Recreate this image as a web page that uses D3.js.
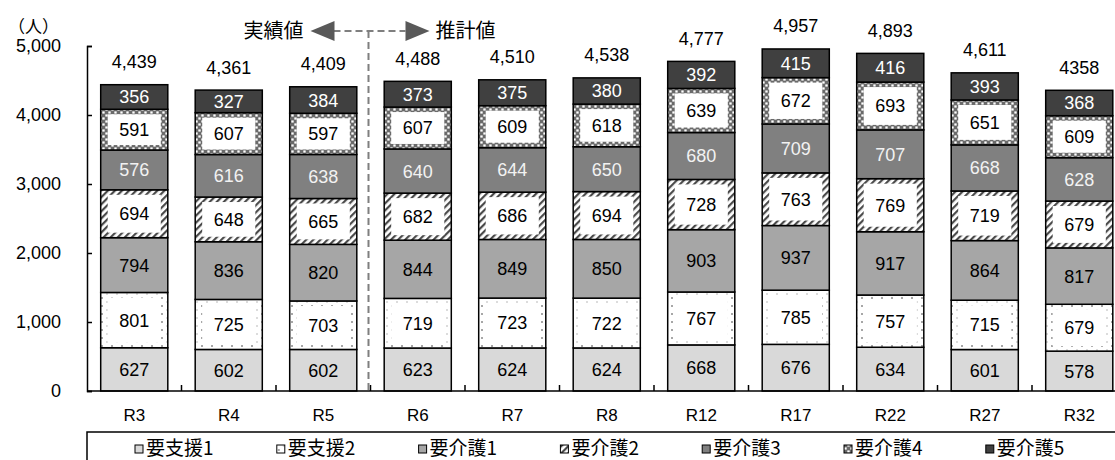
<!DOCTYPE html>
<html>
<head>
<meta charset="utf-8">
<script src="https://cdn.jsdelivr.net/npm/d3@7"></script>
<style>
  html, body { margin: 0; padding: 0; background: #fff; }
  svg { display: block; }
  .num { font-family: "Liberation Sans", Arial, sans-serif; }
  .jp { font-family: "Noto Sans CJK JP", sans-serif; }
</style>
</head>
<body>
<svg id="chart" width="1115" height="460"></svg>
<script>
// Categories (fiscal years) and stacked series, bottom to top
const categories = ["R3", "R4", "R5", "R6", "R7", "R8", "R12", "R17", "R22", "R27", "R32"];
const seriesNames = ["要支援1", "要支援2", "要介護1", "要介護2", "要介護3", "要介護4", "要介護5"];
const shien1 = [627, 602, 602, 623, 624, 624, 668, 676, 634, 601, 578];
const shien2 = [801, 725, 703, 719, 723, 722, 767, 785, 757, 715, 679];
const kaigo1 = [794, 836, 820, 844, 849, 850, 903, 937, 917, 864, 817];
const kaigo2 = [694, 648, 665, 682, 686, 694, 728, 763, 769, 719, 679];
const kaigo3 = [576, 616, 638, 640, 644, 650, 680, 709, 707, 668, 628];
const kaigo4 = [591, 607, 597, 607, 609, 618, 639, 672, 693, 651, 609];
const kaigo5 = [356, 327, 384, 373, 375, 380, 392, 415, 416, 393, 368];
const totalLabels = ["4,439", "4,361", "4,409", "4,488", "4,510", "4,538", "4,777", "4,957", "4,893", "4,611", "4358"];
const yTicks = [0, 1000, 2000, 3000, 4000, 5000];

const seriesValues = [shien1, shien2, kaigo1, kaigo2, kaigo3, kaigo4, kaigo5];

const svg = d3.select("#chart");
const defs = svg.append("defs");

// Fill patterns
const pDots = defs.append("pattern").attr("id", "pDots")
  .attr("patternUnits", "userSpaceOnUse").attr("width", 10).attr("height", 8);
pDots.append("rect").attr("width", 10).attr("height", 8).attr("fill", "#fff");
pDots.append("circle").attr("cx", 2).attr("cy", 2).attr("r", 1).attr("fill", "#8a8a8a");
pDots.append("circle").attr("cx", 7).attr("cy", 6).attr("r", 0.8).attr("fill", "#b0b0b0");

const pDiag = defs.append("pattern").attr("id", "pDiag")
  .attr("patternUnits", "userSpaceOnUse").attr("width", 5).attr("height", 5)
  .attr("patternTransform", "rotate(45)");
pDiag.append("rect").attr("width", 5).attr("height", 5).attr("fill", "#fff");
pDiag.append("rect").attr("x", 0).attr("y", 0).attr("width", 2.2).attr("height", 5).attr("fill", "#4a4a4a");

const pCheck = defs.append("pattern").attr("id", "pCheck")
  .attr("patternUnits", "userSpaceOnUse").attr("width", 6).attr("height", 6);
pCheck.append("rect").attr("width", 6).attr("height", 6).attr("fill", "#9a9a9a");
pCheck.append("rect").attr("x", 0).attr("y", 0).attr("width", 3).attr("height", 3).attr("fill", "#6a6a6a");
pCheck.append("rect").attr("x", 3).attr("y", 3).attr("width", 3).attr("height", 3).attr("fill", "#6a6a6a");
pCheck.append("circle").attr("cx", 1.5).attr("cy", 4.5).attr("r", 1.1).attr("fill", "#fff");
pCheck.append("circle").attr("cx", 4.5).attr("cy", 1.5).attr("r", 1.1).attr("fill", "#fff");

const fills = ["#d9d9d9", "url(#pDots)", "#a6a6a6", "url(#pDiag)", "#808080", "url(#pCheck)", "#404040"];
const labelBox = [false, true, false, true, false, true, false];
const labelColor = ["#000", "#000", "#000", "#000", "#f2f2f2", "#000", "#fff"];

// Scales
const x = d3.scaleBand().domain(categories)
  .range([87, 1126.5]).paddingInner(0.29).paddingOuter(0.145);
const y = d3.scaleLinear().domain([0, 5000]).range([391, 46]);

// Stack
const table = categories.map((c, i) => {
  const row = { cat: c };
  seriesNames.forEach((s, k) => { row[s] = seriesValues[k][i]; });
  return row;
});
const stacked = d3.stack().keys(seriesNames)(table);

// Bars
const layers = svg.append("g").selectAll("g").data(stacked).join("g");
layers.each(function (layer, k) {
  const g = d3.select(this);
  const segs = g.selectAll("g").data(layer).join("g");
  segs.append("rect")
    .attr("x", d => x(d.data.cat))
    .attr("y", d => y(d[1]))
    .attr("width", x.bandwidth())
    .attr("height", d => y(d[0]) - y(d[1]))
    .attr("fill", fills[k])
    .attr("stroke", "#000").attr("stroke-width", 1.5);
  if (labelBox[k]) {
    segs.append("rect")
      .attr("x", d => x(d.data.cat) + 7)
      .attr("y", d => y(d[1]) + 5)
      .attr("width", x.bandwidth() - 14)
      .attr("height", d => y(d[0]) - y(d[1]) - 10)
      .attr("fill", "#fff");
  }
  segs.append("text").attr("class", "num")
    .attr("x", d => x(d.data.cat) + x.bandwidth() / 2)
    .attr("y", d => (y(d[0]) + y(d[1])) / 2)
    .attr("dy", "0.36em")
    .attr("text-anchor", "middle")
    .attr("font-size", 18)
    .attr("fill", labelColor[k])
    .text(d => d[1] - d[0]);
});

// Totals above the bars
const topLayer = stacked[stacked.length - 1];
svg.append("g").selectAll("text").data(topLayer).join("text")
  .attr("class", "num")
  .attr("x", d => x(d.data.cat) + x.bandwidth() / 2)
  .attr("y", d => y(d[1]) - 23)
  .attr("dy", "0.36em")
  .attr("text-anchor", "middle")
  .attr("font-size", 18)
  .attr("fill", "#000")
  .text((d, i) => totalLabels[i]);

// Y axis
const yAxis = d3.axisLeft(y).tickValues(yTicks)
  .tickFormat(d3.format(","))
  .tickSizeInner(-5).tickSizeOuter(-5).tickPadding(26);
const gy = svg.append("g").attr("transform", "translate(87,0)").call(yAxis);
gy.select(".domain").attr("stroke", "#000").attr("stroke-width", 1.5);
gy.selectAll(".tick line").attr("stroke", "#000").attr("stroke-width", 1.5);
gy.selectAll(".tick text").attr("class", "num").attr("font-size", 18).attr("fill", "#000");

// X axis with boundary ticks pointing up
const gx = svg.append("g");
gx.append("line").attr("x1", 87).attr("x2", 1115).attr("y1", y(0)).attr("y2", y(0))
  .attr("stroke", "#000").attr("stroke-width", 1.5);
gx.selectAll("line.b").data(categories.slice(1)).join("line").attr("class", "b")
  .attr("x1", c => x(c) - x.step() * x.paddingInner() / 2)
  .attr("x2", c => x(c) - x.step() * x.paddingInner() / 2)
  .attr("y1", y(0)).attr("y2", y(0) - 6)
  .attr("stroke", "#000").attr("stroke-width", 1.5);
gx.selectAll("text").data(categories).join("text")
  .attr("class", "num")
  .attr("x", c => x(c) + x.bandwidth() / 2)
  .attr("y", 415).attr("dy", "0.36em")
  .attr("text-anchor", "middle").attr("font-size", 17).attr("fill", "#000")
  .text(c => c);

// Unit label
svg.append("text").attr("class", "jp").attr("x", 8).attr("y", 27).attr("dy", "0.36em")
  .attr("font-size", 17).attr("fill", "#000").text("（人）");

// Actual / projected divider with arrows
const divX = x("R6") - x.step() * x.paddingInner() / 2 - 2;
const arrowY = 31;
const ann = svg.append("g");
ann.append("line").attr("x1", divX).attr("x2", divX).attr("y1", arrowY).attr("y2", y(0))
  .attr("stroke", "#7f7f7f").attr("stroke-width", 2).attr("stroke-dasharray", "7,4");
ann.append("line").attr("x1", divX - 35).attr("x2", divX + 37).attr("y1", arrowY).attr("y2", arrowY)
  .attr("stroke", "#7f7f7f").attr("stroke-width", 2).attr("stroke-dasharray", "7,4");
ann.append("path")
  .attr("d", `M${divX - 58},${arrowY} L${divX - 34},${arrowY - 10} L${divX - 34},${arrowY + 10} Z`)
  .attr("fill", "#595959");
ann.append("path")
  .attr("d", `M${divX + 61},${arrowY} L${divX + 37},${arrowY - 10} L${divX + 37},${arrowY + 10} Z`)
  .attr("fill", "#595959");
ann.append("text").attr("class", "jp").attr("x", divX - 65).attr("y", arrowY).attr("dy", "0.36em")
  .attr("text-anchor", "end").attr("font-size", 20).attr("fill", "#000").text("実績値");
ann.append("text").attr("class", "jp").attr("x", divX + 67).attr("y", arrowY).attr("dy", "0.36em")
  .attr("text-anchor", "start").attr("font-size", 20).attr("fill", "#000").text("推計値");

// Legend
const lg = svg.append("g");
lg.append("path").attr("d", "M87,460 V432 H1115")
  .attr("fill", "none").attr("stroke", "#000").attr("stroke-width", 1.5);
const items = lg.selectAll("g").data(seriesNames).join("g")
  .attr("transform", (d, i) => `translate(${135 + i * 141.8},0)`);
items.append("rect").attr("x", 0).attr("y", 445).attr("width", 8).attr("height", 8)
  .attr("fill", (d, i) => fills[i]).attr("stroke", "#000").attr("stroke-width", 1);
items.append("text").attr("class", "jp").attr("x", 11).attr("y", 448).attr("dy", "0.36em")
  .attr("font-size", 19).attr("fill", "#000").text(d => d);
</script>
</body>
</html>
